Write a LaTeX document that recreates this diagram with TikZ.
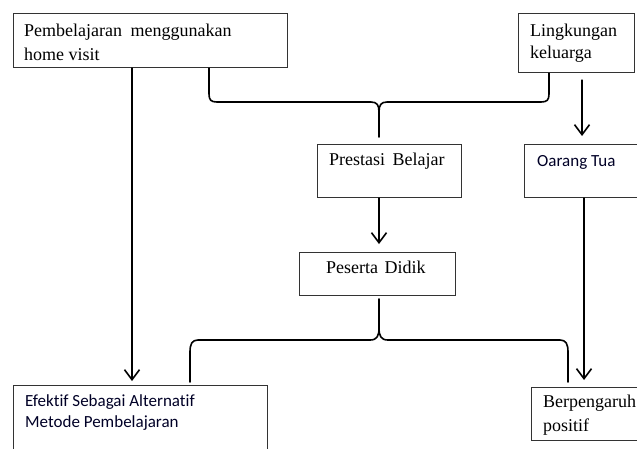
\documentclass[tikz,border=0pt]{standalone}
\usepackage{fontspec}
\setmainfont{Liberation Serif}
\newfontfamily\calfont[Ligatures=NoCommon]{Carlito}
\usetikzlibrary{arrows.meta}
\tikzset{
  box/.style={draw=black!80, line width=1.1pt, rectangle, inner sep=0pt, anchor=north west},
  sertxt/.style={anchor=base west, inner sep=0pt, align=left, font=\fontsize{18}{24}\selectfont},
  caltxt/.style={anchor=base west, inner sep=0pt, align=left, font=\calfont\fontsize{17}{22}\selectfont, text=black!85!blue},
  link/.style={line width=1.6pt, line cap=round, line join=round},
  arr/.style={link, -{Straight Barb[length=10pt, width=15pt, line width=1.6pt]}},
}
\begin{document}
\begin{tikzpicture}[x=1pt, y=-1pt]
\useasboundingbox (0,0) rectangle (637,448);
\clip (0,0) rectangle (637,448);
% boxes
\node[box, minimum width=274, minimum height=54] (pemb) at (13,13) {};
\node[box, minimum width=116, minimum height=59] (ling) at (518,13) {};
\node[box, minimum width=144, minimum height=53] (pres) at (317,144) {};
\node[box, minimum width=130, minimum height=53] (orang) at (524,144) {};
\node[box, minimum width=156, minimum height=43] (pese) at (299,252) {};
\node[box, minimum width=254, minimum height=80] (efek) at (13,385) {};
\node[box, minimum width=120, minimum height=53] (berp) at (531,387) {};
% texts (base anchor = baseline of last line)
\node[sertxt] (tpemb) at (24,60) {Pembelajaran\hspace{4pt} menggunakan\\home visit};
\node[sertxt] (tling) at (530,58) {Lingkungan\\[-2pt]keluarga};
\node[sertxt] (tpres) at (329,165) {Prestasi\hspace{3pt} Belajar};
\node[caltxt] (torang) at (537,166) {Oarang Tua};
\node[sertxt] (tpese) at (326,273) {Peserta\hspace{2pt} Didik};
\node[caltxt] (tefek) at (25,427) {Efektif Sebagai Alternatif\\[-1pt]Metode Pembelajaran};
\node[sertxt] (tberp) at (543,431) {Berpengaruh\\[0pt]positif};
% connector end points
\coordinate (b1L) at (pemb.south west -| 209,0);
\coordinate (b1R) at (ling.south west -| 549,0);
\coordinate (b1T) at (379,137);
\coordinate (b2T) at (379,299);
\coordinate (b2L) at (190,382);
\coordinate (b2R) at (568,382);
% top brace
\draw[link] (b1L) -- (209,94) .. controls (209,100) and (211,102) .. (217,102)
  -- (371,102) .. controls (377,102) and (379,105) .. (379,112) -- (b1T);
\draw[link] (b1R) -- (549,94) .. controls (549,100) and (547,102) .. (541,102)
  -- (387,102) .. controls (381,102) and (379,105) .. (379,112);
% bottom brace
\draw[link] (b2T) -- (379,328) .. controls (379,336) and (377,340) .. (370,340)
  -- (198,340) .. controls (192,340) and (190,344) .. (190,352) -- (b2L);
\draw[link] (379,328) .. controls (379,336) and (381,340) .. (388,340)
  -- (560,340) .. controls (566,340) and (568,344) .. (568,352) -- (b2R);
% arrows (yshift is in page direction: positive = up)
\draw[arr] (pemb.south -| 132,0) -- ([yshift=4pt]efek.north -| 132,0);
\draw[arr] ([yshift=-7pt]ling.south -| 582,0) -- ([yshift=8pt]orang.north -| 582,0);
\draw[arr] (pres.south -| 379,0) -- ([yshift=8pt]pese.north -| 379,0);
\draw[arr] (orang.south -| 584,0) -- ([yshift=7pt]berp.north -| 584,0);
\end{tikzpicture}
\end{document}
